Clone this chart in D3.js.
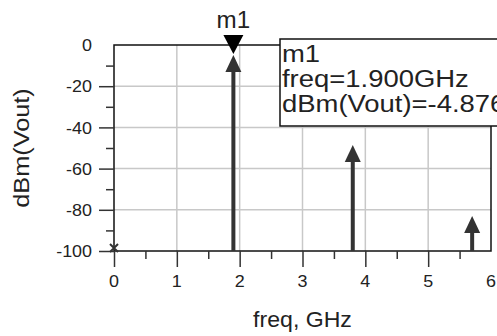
<!DOCTYPE html>
<html>
<head>
<meta charset="utf-8">
<script src="https://cdn.jsdelivr.net/npm/d3@7"></script>
<style>
  body { margin: 0; background: #fff; }
  svg { display: block; }
  text { font-family: Arial, "Liberation Sans", sans-serif; fill: #222; }
</style>
</head>
<body>
<svg id="chart" width="497" height="336"></svg>
<script>
// spectrum lines (freq in GHz, level in dBm)
var freqs = [1.9, 3.8, 5.7];
var levels = [-4.876, -48.5, -83];

// DC term sits at the bottom of the range, drawn as a cross
var dcFreq = [0];
var dcLevel = [-100];

var xTicks = [0, 1, 2, 3, 4, 5];
var xMinor = [0.5, 1.5, 2.5, 3.5, 4.5, 5.5];
var xLabels = ['0', '1', '2', '3', '4', '5', '6'];
var yTicks = [-100, -80, -60, -40, -20];
var yMinor = [-90, -70, -50, -30, -10];
var yLabels = [0, -20, -40, -60, -80, -100];

var markerName = 'm1';
var markerFreq = 1.9;
var markerLevel = -4.876;
var markerLines = ['m1', 'freq=1.900GHz', 'dBm(Vout)=-4.876'];

var svg = d3.select('#chart');

var x = d3.scaleLinear().domain([0, 6]).range([114, 491]);
var y = d3.scaleLinear().domain([-100, 0]).range([251, 45]);

var ink = '#333';

// text in this plot is a bit wider than Arial, so stretch it sideways
function wideText(sel, px, py, sx, rot) {
   return sel.attr('transform', 'translate(' + px + ',' + py + ')' +
      (rot ? ' rotate(' + rot + ')' : '') + ' scale(' + sx + ',1)');
}

// grid
svg.append('g')
   .selectAll('line.vgrid')
   .data([1, 2, 3, 4, 5])
   .enter().append('line')
   .attr('x1', function(d) { return x(d); })
   .attr('x2', function(d) { return x(d); })
   .attr('y1', y(0))
   .attr('y2', y(-100))
   .attr('stroke', '#c8c8c8')
   .attr('stroke-width', 1.5);

svg.append('g')
   .selectAll('line.hgrid')
   .data([-80, -60, -40, -20])
   .enter().append('line')
   .attr('x1', x(0))
   .attr('x2', x(6))
   .attr('y1', function(d) { return y(d); })
   .attr('y2', function(d) { return y(d); })
   .attr('stroke', '#c8c8c8')
   .attr('stroke-width', 1.5);

// frame
svg.append('rect')
   .attr('x', x(0))
   .attr('y', y(0))
   .attr('width', x(6) - x(0))
   .attr('height', y(-100) - y(0))
   .attr('fill', 'none')
   .attr('stroke', '#111')
   .attr('stroke-width', 1.5);

// axis ticks
svg.append('g')
   .attr('transform', 'translate(0,' + y(-100) + ')')
   .call(d3.axisBottom(x).tickValues(xTicks).tickSize(16).tickFormat(''))
   .call(function(g) { g.select('.domain').remove(); })
   .selectAll('line').attr('stroke', ink).attr('stroke-width', 1.5);

svg.append('g')
   .attr('transform', 'translate(0,' + y(-100) + ')')
   .call(d3.axisBottom(x).tickValues(xMinor).tickSize(8).tickFormat(''))
   .call(function(g) { g.select('.domain').remove(); })
   .selectAll('line').attr('stroke', ink).attr('stroke-width', 1.5);

svg.append('g')
   .attr('transform', 'translate(' + x(0) + ',0)')
   .call(d3.axisLeft(y).tickValues(yTicks).tickSize(15).tickFormat(''))
   .call(function(g) { g.select('.domain').remove(); })
   .selectAll('line').attr('stroke', ink).attr('stroke-width', 1.5);

svg.append('g')
   .attr('transform', 'translate(' + x(0) + ',0)')
   .call(d3.axisLeft(y).tickValues(yMinor).tickSize(8).tickFormat(''))
   .call(function(g) { g.select('.domain').remove(); })
   .selectAll('line').attr('stroke', ink).attr('stroke-width', 1.5);

// tick labels
svg.append('g')
   .selectAll('text')
   .data(xLabels)
   .enter().append('text')
   .attr('text-anchor', 'middle')
   .style('font-size', '16px')
   .text(function(d) { return d; })
   .each(function(d) { wideText(d3.select(this), x(+d), 287, 1.12); });

svg.append('g')
   .selectAll('text')
   .data(yLabels)
   .enter().append('text')
   .attr('text-anchor', 'end')
   .attr('dominant-baseline', 'central')
   .style('font-size', '16px')
   .text(function(d) { return d; })
   .each(function(d) { wideText(d3.select(this), 92, y(d) + 1, 1.12); });

// axis titles
wideText(svg.append('text')
   .attr('text-anchor', 'middle')
   .style('font-size', '22px')
   .text('freq, GHz'), (x(0) + x(6)) / 2, 327, 1.05);

wideText(svg.append('text')
   .attr('text-anchor', 'middle')
   .style('font-size', '22px')
   .text('dBm(Vout)'), 29, (y(0) + y(-100)) / 2, 1.15, -90);

// spectral lines with arrow heads
var lines = svg.append('g');
freqs.forEach(function(f, i) {
   var px = x(f), tip = y(levels[i]);
   lines.append('line')
      .attr('x1', px).attr('x2', px)
      .attr('y1', y(-100)).attr('y2', tip + 8)
      .attr('stroke', ink)
      .attr('stroke-width', 4);
   lines.append('path')
      .attr('d', 'M' + px + ',' + tip + 'L' + (px - 8) + ',' + (tip + 17) + 'L' + (px + 8) + ',' + (tip + 17) + 'Z')
      .attr('fill', ink);
});

// DC cross
dcFreq.forEach(function(f, i) {
   var px = x(f), py = y(dcLevel[i]) - 3;
   lines.append('path')
      .attr('d', 'M' + (px - 4) + ',' + (py - 4) + 'L' + (px + 4) + ',' + (py + 4) +
         'M' + (px + 4) + ',' + (py - 4) + 'L' + (px - 4) + ',' + (py + 4))
      .attr('stroke', ink)
      .attr('stroke-width', 2);
});

// marker
var mx = x(markerFreq), my = y(markerLevel);
svg.append('path')
   .attr('d', 'M' + (mx - 10) + ',35L' + (mx + 10) + ',35L' + mx + ',54Z')
   .attr('fill', '#000');

wideText(svg.append('text')
   .attr('text-anchor', 'middle')
   .style('font-size', '23px')
   .text(markerName), mx, 28, 1.05);

// marker readout box
var box = svg.append('g');
box.append('rect')
   .attr('x', 280)
   .attr('y', 39)
   .attr('width', 240)
   .attr('height', 87)
   .attr('fill', '#fff')
   .attr('stroke', '#111')
   .attr('stroke-width', 1.5);

box.selectAll('text')
   .data(markerLines)
   .enter().append('text')
   .style('font-size', '24.5px')
   .text(function(d) { return d; })
   .each(function(d, i) { wideText(d3.select(this), 282, 62 + i * 25, 1.12); });
</script>
</body>
</html>
